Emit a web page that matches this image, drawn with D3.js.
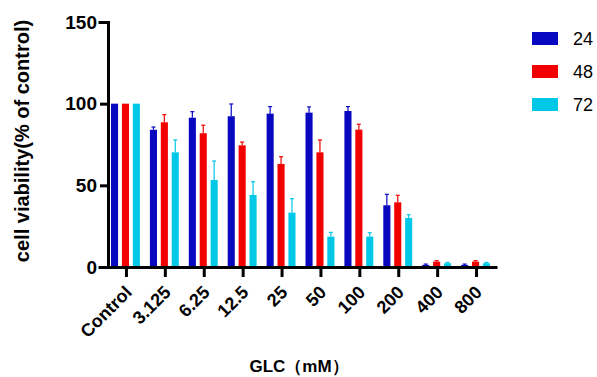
<!DOCTYPE html>
<html>
<head>
<meta charset="utf-8">
<script src="https://cdn.jsdelivr.net/npm/d3@7"></script>
<style>
  body { margin: 0; background: #fff; }
  text { font-family: Arial, "Liberation Sans", sans-serif; }
</style>
</head>
<body>
<div id="chart"></div>
<script>
/* data */
var categories = ["Control", "3.125", "6.25", "12.5", "25", "50", "100", "200", "400", "800"];
var seriesNames = ["24", "48", "72"];
var colors = ["#0808c0", "#f20000", "#00c8e6"];
var mean24 = [100, 84, 91.4, 92.3, 93.9, 94.5, 95.5, 37.8, 1.3, 1.3];
var err24  = [0, 1.7, 3.7, 7.5, 4.3, 3.5, 2.7, 6.7, 0.5, 0.5];
var mean48 = [100, 88.6, 81.9, 74.5, 63.1, 70.2, 84.1, 39.6, 3.3, 3.3];
var err48  = [0, 4.7, 4.9, 2, 4.4, 7.6, 3.3, 4.3, 0.6, 0.6];
var mean72 = [100, 70.2, 53.3, 44.1, 33.3, 18.6, 18.6, 30, 2.3, 2.3];
var err72  = [0, 7.6, 11.6, 8.1, 8.5, 2.6, 2.4, 2, 0.5, 0.5];
var yTicks = [0, 50, 100, 150];

var means = [mean24, mean48, mean72];
var errs = [err24, err48, err72];

var width = 597, height = 377;
var svg = d3.select("#chart").append("svg")
  .attr("width", width).attr("height", height);

/* scales */
var x = d3.scaleBand().domain(categories).range([107, 496]).paddingInner(0).paddingOuter(0);
var xSub = d3.scaleBand().domain(seriesNames).range([4, x.bandwidth() - 6]).paddingInner(0.35);
var y = d3.scaleLinear().domain([0, 150]).range([267, 22]);

/* bars */
var rows = [];
categories.forEach(function(c, i) {
  seriesNames.forEach(function(s, j) {
    rows.push({cat: c, ser: s, j: j, v: means[j][i], e: errs[j][i]});
  });
});

var g = svg.append("g");
g.selectAll("rect.bar").data(rows).enter().append("rect")
  .attr("class", "bar")
  .attr("x", function(d) { return x(d.cat) + xSub(d.ser); })
  .attr("y", function(d) { return y(d.v); })
  .attr("width", xSub.bandwidth())
  .attr("height", function(d) { return y(0) - y(d.v); })
  .attr("fill", function(d) { return colors[d.j]; });

/* error bars (upper only) */
var eb = g.selectAll("g.err").data(rows.filter(function(d) { return d.e > 0; }))
  .enter().append("g").attr("class", "err")
  .attr("stroke", function(d) { return colors[d.j]; })
  .attr("stroke-width", 1.2);
eb.append("line")
  .attr("x1", function(d) { return x(d.cat) + xSub(d.ser) + xSub.bandwidth() / 2; })
  .attr("x2", function(d) { return x(d.cat) + xSub(d.ser) + xSub.bandwidth() / 2; })
  .attr("y1", function(d) { return y(d.v); })
  .attr("y2", function(d) { return y(d.v + d.e); });
eb.append("line")
  .attr("x1", function(d) { return x(d.cat) + xSub(d.ser) + xSub.bandwidth() / 2 - 2; })
  .attr("x2", function(d) { return x(d.cat) + xSub(d.ser) + xSub.bandwidth() / 2 + 2; })
  .attr("y1", function(d) { return y(d.v + d.e); })
  .attr("y2", function(d) { return y(d.v + d.e); });

/* axes */
var yAxis = svg.append("g")
  .attr("transform", "translate(108,0)")
  .call(d3.axisLeft(y).tickValues(yTicks).tickSize(8).tickPadding(3));
var xAxis = svg.append("g")
  .attr("transform", "translate(0," + y(0) + ")")
  .call(d3.axisBottom(x).tickSize(10).tickSizeOuter(0).tickPadding(4));

[yAxis, xAxis].forEach(function(a) {
  a.selectAll("path, line").attr("stroke", "#000").attr("stroke-width", 3);
  a.select(".domain").attr("stroke-linecap", "square");
  a.selectAll("text").attr("fill", "#000").style("font-weight", "bold")
    .style("font-family", "Arial, 'Liberation Sans', sans-serif");
});
yAxis.selectAll("text").style("font-size", "19px");
xAxis.select(".domain").attr("d", "M108,0.5H496");
xAxis.selectAll("text")
  .style("font-size", "18px")
  .attr("text-anchor", "end")
  .attr("dy", "0.35em")
  .attr("transform", "translate(2,22) rotate(-45)")
  .attr("x", 0).attr("y", 0);

/* axis titles */
svg.append("text")
  .attr("transform", "translate(29,141) rotate(-90)")
  .attr("text-anchor", "middle")
  .style("font-weight", "bold").style("font-size", "20px")
  .text("cell viability(% of control)");

svg.append("text")
  .attr("x", 299).attr("y", 372)
  .attr("text-anchor", "middle")
  .style("font-weight", "bold").style("font-size", "17px")
  .text("GLC（mM）");

/* legend */
var lg = svg.append("g").selectAll("g").data(seriesNames).enter().append("g")
  .attr("transform", function(d, i) { return "translate(532," + (32 + i * 33) + ")"; });
lg.append("rect")
  .attr("width", 26).attr("height", 13)
  .attr("fill", function(d, i) { return colors[i]; });
lg.append("text")
  .attr("x", 41).attr("y", 13)
  .style("font-size", "18px")
  .text(function(d) { return d; });
</script>
</body>
</html>
